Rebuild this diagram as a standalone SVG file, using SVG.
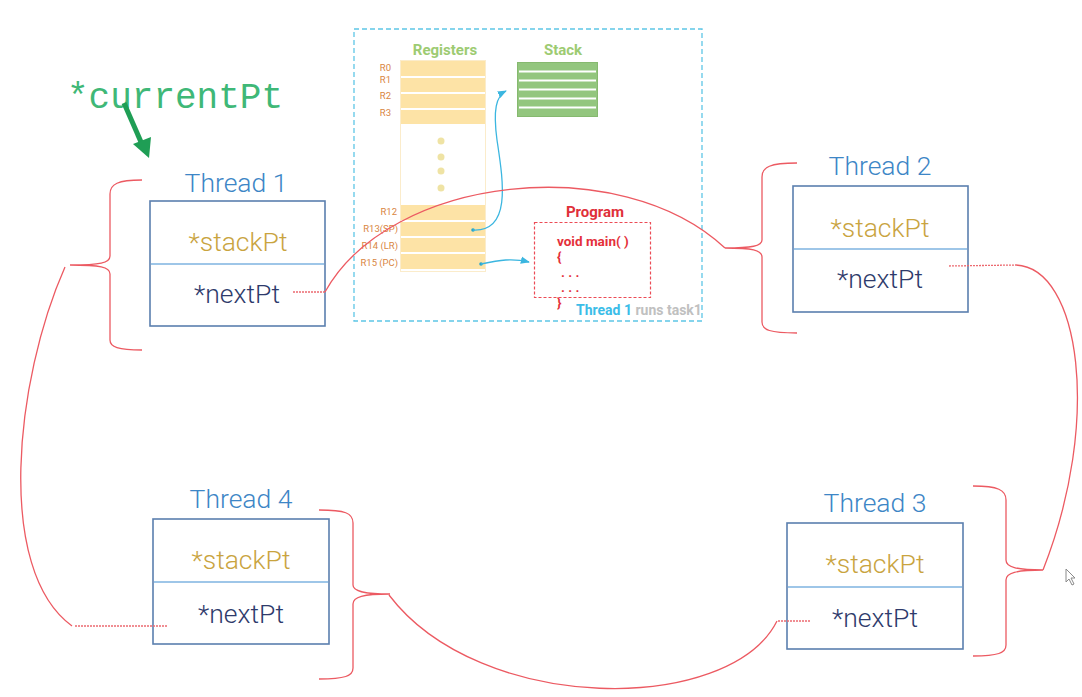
<svg xmlns="http://www.w3.org/2000/svg" width="1082" height="697" viewBox="0 0 1082 697">
<defs>
<style>
.box{fill:#ffffff;stroke:#5b7fae;stroke-width:1.6}
.div{stroke:#7eb3e0;stroke-width:1.4}
.ttl{font-family:Roboto,"Liberation Sans",sans-serif;font-size:26.5px;font-weight:300;fill:#3d86c6;text-anchor:middle}
.sp{font-family:Roboto,"Liberation Sans",sans-serif;font-size:26.5px;font-weight:300;fill:#c9a43f;text-anchor:middle}
.np{font-family:Roboto,"Liberation Sans",sans-serif;font-size:26.5px;font-weight:300;fill:#2e3a6b;text-anchor:middle}
.red{fill:none;stroke:#ec5a62;stroke-width:1.3}
.dash{fill:none;stroke:#ec6a70;stroke-width:1.3;stroke-dasharray:2 1}
.rl{font-family:Roboto,"Liberation Sans",sans-serif;font-size:9.5px;fill:#d9863f;text-anchor:end}
.row{fill:#fde3a6}
.gh{font-family:Roboto,"Liberation Sans",sans-serif;font-size:15px;font-weight:bold;fill:#9dcb72;text-anchor:middle}
.pg{font-family:Roboto,"Liberation Sans",sans-serif;font-size:13.5px;font-weight:bold;fill:#e4303a}
.blue{fill:none;stroke:#3bb6e0;stroke-width:1.3}
</style>
<marker id="ab" viewBox="0 0 10 10" refX="9" refY="5" markerWidth="7" markerHeight="7" orient="auto"><path d="M0,1 L10,5 L0,9 z" fill="#3bb6e0"/></marker>
</defs>
<rect width="1082" height="697" fill="#ffffff"/>

<g id="cpu-panel">
<rect x="354" y="29" width="348" height="292" fill="none" stroke="#5ec6e6" stroke-width="1.3" stroke-dasharray="5 3"/>
<text class="gh" x="445" y="55">Registers</text>
<text class="gh" x="563" y="55">Stack</text>
<rect x="400.5" y="60.5" width="85" height="211" fill="none" stroke="#fbeccb" stroke-width="1"/>
<rect class="row" x="401" y="61" width="84" height="15"/>
<rect class="row" x="401" y="78" width="84" height="14"/>
<rect class="row" x="401" y="94" width="84" height="14"/>
<rect class="row" x="401" y="110" width="84" height="14"/>
<rect class="row" x="401" y="205" width="84" height="15"/>
<rect class="row" x="401" y="222" width="84" height="14"/>
<rect class="row" x="401" y="238" width="84" height="14"/>
<rect class="row" x="401" y="254" width="84" height="15"/>
<circle cx="441" cy="141" r="3.5" fill="#efe3a4"/>
<circle cx="441" cy="157" r="3.5" fill="#efe3a4"/>
<circle cx="441" cy="171" r="3.5" fill="#efe3a4"/>
<circle cx="441" cy="188" r="3.5" fill="#efe3a4"/>
<text class="rl" x="391" y="71">R0</text>
<text class="rl" x="391" y="83">R1</text>
<text class="rl" x="391" y="99">R2</text>
<text class="rl" x="391" y="116">R3</text>
<text class="rl" x="397" y="215">R12</text>
<text class="rl" x="398" y="232">R13(SP)</text>
<text class="rl" x="398" y="249">R14 (LR)</text>
<text class="rl" x="398" y="266">R15 (PC)</text>
<rect x="517.5" y="62.5" width="80" height="54" fill="#93c67e" stroke="#86b96f" stroke-width="1"/>
<g stroke="#ffffff" stroke-width="1.8">
<line x1="519" y1="71.5" x2="596" y2="71.5"/>
<line x1="519" y1="80.5" x2="596" y2="80.5"/>
<line x1="519" y1="89.5" x2="596" y2="89.5"/>
<line x1="519" y1="98.5" x2="596" y2="98.5"/>
<line x1="519" y1="107.5" x2="596" y2="107.5"/>
</g>
<text x="595" y="217" font-family="Roboto,'Liberation Sans',sans-serif" font-size="15" font-weight="bold" fill="#e0303a" text-anchor="middle">Program</text>
<rect x="534.5" y="222.5" width="116" height="75" fill="none" stroke="#ec4a55" stroke-width="1.2" stroke-dasharray="3 2"/>
<text class="pg" x="557" y="246">void main( )</text>
<text class="pg" x="557" y="261">{</text>
<text class="pg" x="561" y="277">. . .</text>
<text class="pg" x="561" y="292">. . .</text>
<text class="pg" x="557" y="307">}</text>
<text x="576" y="315" font-family="Roboto,'Liberation Sans',sans-serif" font-size="14" font-weight="bold" fill="#3bbde8">Thread 1 <tspan fill="#c0c0c0">runs task1</tspan></text>
<circle cx="473" cy="230" r="1.8" fill="#2aa6c8"/>
<circle cx="481" cy="264" r="1.8" fill="#2aa6c8"/>
<path class="blue" d="M473,230 C512,232 503,180 497,140 C493,110 496,96 506,91" marker-end="url(#ab)"/>
<path class="blue" d="M481,264 C500,260 512,258 529,262" marker-end="url(#ab)"/>
</g>

<g id="current-pointer">
<text x="67" y="108" font-family="'Liberation Mono',monospace" font-size="36" fill="#3fb877">*currentPt</text>
<line x1="124" y1="103" x2="141" y2="142" stroke="#1f9e55" stroke-width="5"/>
<path d="M133,144 L149,158 L151,137 z" fill="#1f9e55"/>
</g>

<g id="thread1">
<text class="ttl" x="236" y="192">Thread 1</text>
<rect class="box" x="150" y="201" width="175" height="125"/>
<line class="div" x1="151" y1="264" x2="324" y2="264"/>
<text class="sp" x="238" y="251">*stackPt</text>
<text class="np" x="237" y="303">*nextPt</text>
<path class="red" d="M142,180 C118,180 110,184 110,194 L110,256 C110,263 100,265 70,265 C100,265 110,267 110,274 L110,340 C110,347 118,350 142,350"/>
</g>

<g id="thread2">
<text class="ttl" x="880" y="175">Thread 2</text>
<rect class="box" x="793" y="186" width="175" height="126"/>
<line class="div" x1="794" y1="249" x2="967" y2="249"/>
<text class="sp" x="880" y="237">*stackPt</text>
<text class="np" x="880" y="288">*nextPt</text>
<path class="red" d="M797,163 C770,163 762,167 762,177 L762,240 C762,246 752,248 725,248 C752,248 762,250 762,257 L762,322 C762,330 770,333 797,333"/>
</g>

<g id="thread3">
<text class="ttl" x="875" y="512">Thread 3</text>
<rect class="box" x="787" y="523" width="176" height="126"/>
<line class="div" x1="788" y1="587" x2="962" y2="587"/>
<text class="sp" x="875" y="573">*stackPt</text>
<text class="np" x="875" y="627">*nextPt</text>
<path class="red" d="M973,486 C998,486 1006,490 1006,500 L1006,560 C1006,567 1016,570 1043,570 C1016,570 1006,573 1006,580 L1006,645 C1006,653 998,656 973,656"/>
</g>

<g id="thread4">
<text class="ttl" x="241" y="508">Thread 4</text>
<rect class="box" x="153" y="519" width="176" height="125"/>
<line class="div" x1="154" y1="582" x2="328" y2="582"/>
<text class="sp" x="241" y="569">*stackPt</text>
<text class="np" x="241" y="623">*nextPt</text>
<path class="red" d="M319,510 C345,510 353,513 353,523 L353,585 C353,591 363,594 390,594 C363,594 353,597 353,604 L353,668 C353,676 345,679 319,679"/>
</g>

<g id="connectors">
<line class="dash" x1="293" y1="292" x2="325" y2="292"/>
<path class="red" d="M325,292 C390,175 620,150 725,248"/>
<line class="dash" x1="949" y1="266" x2="1016" y2="265"/>
<path class="red" d="M1016,265 C1080,268 1102,420 1043,570"/>
<line class="dash" x1="810" y1="621" x2="777" y2="621"/>
<path class="red" d="M389,595 C480,715 730,715 777,621"/>
<line class="dash" x1="167" y1="626" x2="74" y2="626"/>
<path class="red" d="M65,267 C15,380 -5,570 72,626"/>
</g>

<g id="cursor">
<path d="M1066,569 L1066,582 L1069,579 L1072,585 L1074,584 L1071,578 L1075,578 z" fill="#ffffff" stroke="#8a8a8a" stroke-width="1"/>
</g>
</svg>
